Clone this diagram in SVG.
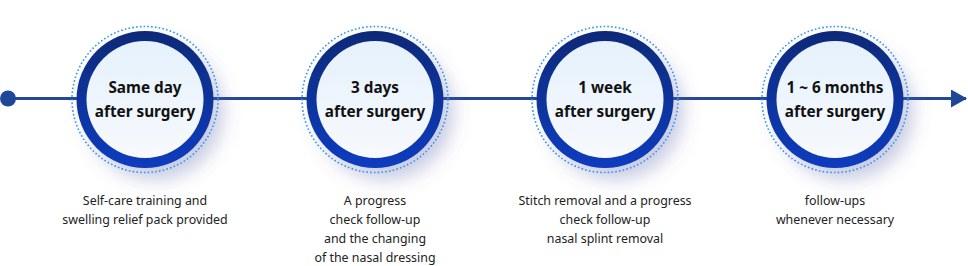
<svg xmlns="http://www.w3.org/2000/svg" width="968" height="266" viewBox="0 0 968 266">
<defs>
<linearGradient id="ringGrad" x1="0" y1="0" x2="0" y2="1">
<stop offset="0" stop-color="#0b2a78"/>
<stop offset="1" stop-color="#0a3cbf"/>
</linearGradient>
<linearGradient id="faceGrad" x1="0" y1="0" x2="0" y2="1">
<stop offset="0" stop-color="#e5f1fc"/>
<stop offset="1" stop-color="#f7f9fd"/>
</linearGradient>
<filter id="shadow" x="-50%" y="-50%" width="200%" height="200%">
<feDropShadow dx="10" dy="12" stdDeviation="9" flood-color="#5a64a8" flood-opacity="0.32"/>
</filter>
<marker id="arrow" markerWidth="16" markerHeight="18" refX="15" refY="9" orient="auto" markerUnits="userSpaceOnUse">
<path d="M0,0 L16,9 L0,18 Z" fill="#1f4799"/>
</marker>
</defs>
<style>
.ring{fill:url(#ringGrad);filter:url(#shadow)}
.face{fill:url(#faceGrad)}
.dots{fill:none;stroke:#2e95f3;stroke-width:1.6;stroke-dasharray:1.6 2.2}
.title{font-family:"Noto Sans","Open Sans",sans-serif;font-weight:700;font-size:15.3px;fill:#111;text-anchor:middle}
.desc{font-family:"Noto Sans","Open Sans",sans-serif;font-size:12.4px;fill:#222;text-anchor:middle}
.line{stroke:#24479a;stroke-width:3;fill:none}
</style>
<g id="connectors">
<path class="line" d="M8,98.5 L966,98.5" marker-end="url(#arrow)"/>
<circle cx="8" cy="98.5" r="8" fill="#1f4799"/>
</g>
<g id="node1">
<circle class="ring" cx="145" cy="99.5" r="68.5"/>
<circle class="face" cx="145" cy="99.5" r="58.5"/>
<circle class="dots" cx="145" cy="99.5" r="73"/>
<text class="title" x="145" y="93">Same day</text>
<text class="title" x="145" y="117">after surgery</text>
<text class="desc" x="145" y="205">Self-care training and</text>
<text class="desc" x="145" y="224">swelling relief pack provided</text>
</g>
<g id="node2">
<circle class="ring" cx="375" cy="99.5" r="68.5"/>
<circle class="face" cx="375" cy="99.5" r="58.5"/>
<circle class="dots" cx="375" cy="99.5" r="73"/>
<text class="title" x="375" y="93">3 days</text>
<text class="title" x="375" y="117">after surgery</text>
<text class="desc" x="375" y="205">A progress</text>
<text class="desc" x="375" y="224">check follow-up</text>
<text class="desc" x="375" y="243">and the changing</text>
<text class="desc" x="375" y="262">of the nasal dressing</text>
</g>
<g id="node3">
<circle class="ring" cx="605" cy="99.5" r="68.5"/>
<circle class="face" cx="605" cy="99.5" r="58.5"/>
<circle class="dots" cx="605" cy="99.5" r="73"/>
<text class="title" x="605" y="93">1 week</text>
<text class="title" x="605" y="117">after surgery</text>
<text class="desc" x="605" y="205">Stitch removal and a progress</text>
<text class="desc" x="605" y="224">check follow-up</text>
<text class="desc" x="605" y="243">nasal splint removal</text>
</g>
<g id="node4">
<circle class="ring" cx="835" cy="99.5" r="68.5"/>
<circle class="face" cx="835" cy="99.5" r="58.5"/>
<circle class="dots" cx="835" cy="99.5" r="73"/>
<text class="title" x="835" y="93">1 ~ 6 months</text>
<text class="title" x="835" y="117">after surgery</text>
<text class="desc" x="835" y="205">follow-ups</text>
<text class="desc" x="835" y="224">whenever necessary</text>
</g>
</svg>
